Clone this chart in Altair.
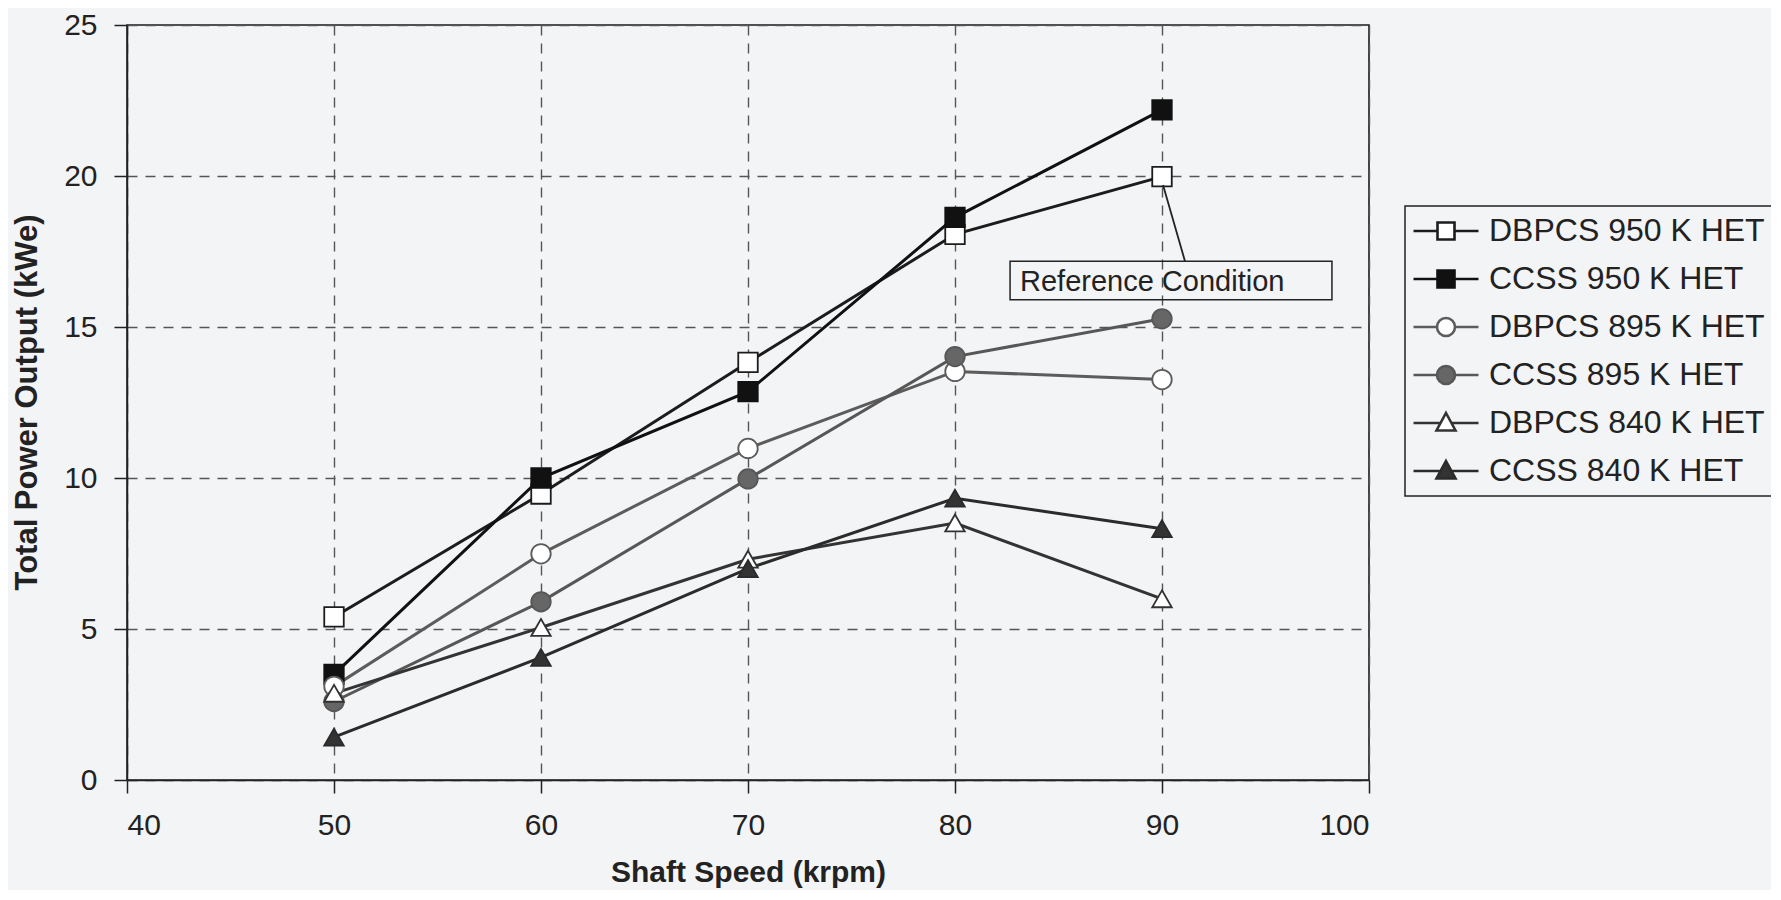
import altair as alt
import pandas as pd

# ---------------- data ----------------
speeds = [50, 60, 70, 80, 90]
series_names = [
    "DBPCS 950 K HET",
    "CCSS 950 K HET",
    "DBPCS 895 K HET",
    "CCSS 895 K HET",
    "DBPCS 840 K HET",
    "CCSS 840 K HET",
]
dbpcs_950 = [5.40, 9.47, 13.83, 18.07, 19.98]
ccss_950 = [3.50, 10.00, 12.86, 18.63, 22.19]
dbpcs_895 = [3.10, 7.49, 10.98, 13.53, 13.26]
ccss_895 = [2.60, 5.90, 9.97, 14.02, 15.27]
dbpcs_840 = [2.87, 5.05, 7.31, 8.51, 6.00]
ccss_840 = [1.42, 4.06, 7.00, 9.33, 8.32]

x_ticks = [40, 50, 60, 70, 80, 90, 100]
y_ticks = [0, 5, 10, 15, 20, 25]

annotation_text = ["Reference Condition"]
annotation_anchor = [90.05, 19.70]              # start of leader (data units)
annotation_leader_end = [91.11, 17.18]          # end of leader at box top
annotation_box = [82.66, 98.21, 17.18, 15.90]   # x, x2, y, y2 in data units
annotation_text_pos = [83.14, 16.49]

# ---------------- styles ----------------
line_colors = ["#1c1c1c", "#111111", "#5c5c5c", "#575757", "#333333", "#2b2b2b"]
marker_fill = ["#ffffff", "#111111", "#ffffff", "#666666", "#ffffff", "#333333"]
marker_stroke = ["#1c1c1c", "#111111", "#5c5c5c", "#575757", "#333333", "#2b2b2b"]
marker_shapes = ["square", "square", "circle", "circle", "triangle-up", "triangle-up"]

sq = "M-3.25,0H-0.85M0.85,0H3.25M-0.85,-0.85H0.85V0.85H-0.85Z"
ci = "M-3.25,0H-0.9M0.9,0H3.25M0.9,0A0.9,0.9,0,1,1,-0.9,0A0.9,0.9,0,1,1,0.9,0Z"
tr = "M-3.25,0H-0.54M0.54,0H3.25M0,-1L0.95,0.75H-0.95Z"
legend_shapes = [sq, sq, ci, ci, tr, tr]

BG = "#f3f4f6"
FONT = "Liberation Sans"

values = [dbpcs_950, ccss_950, dbpcs_895, ccss_895, dbpcs_840, ccss_840]
rows = []
for name, vals in zip(series_names, values):
    for s, v in zip(speeds, vals):
        rows.append({"series": name, "speed": s, "power": v})
df = pd.DataFrame(rows)

xscale = alt.Scale(domain=[40, 100], nice=False, zero=False)
yscale = alt.Scale(domain=[0, 25], nice=False)

x_axis = alt.Axis(
    values=x_ticks,
    title="Shaft Speed (krpm)",
    titleFontSize=30,
    titleFontWeight="bold",
    titleColor="#222222",
    titleBaseline="alphabetic",
    titleY=101,
    labelFontSize=30,
    labelColor="#222222",
    labelPadding=17,
    tickSize=13,
    tickColor="#222222",
    tickWidth=1.5,
    domainColor="#222222",
    domainWidth=1.5,
    grid=True,
    gridColor="#555555",
    gridDash=[10, 8],
    gridWidth=1.4,
)
y_axis = alt.Axis(
    values=y_ticks,
    title="Total Power Output (kWe)",
    titleFontSize=31,
    titleFontWeight="bold",
    titleColor="#222222",
    titleBaseline="middle",
    titleX=-100,
    titleY=377,
    labelFontSize=30,
    labelColor="#222222",
    labelPadding=17,
    tickSize=13,
    tickColor="#222222",
    tickWidth=1.5,
    domainColor="#222222",
    domainWidth=1.5,
    grid=True,
    gridColor="#555555",
    gridDash=[10, 8],
    gridWidth=1.4,
)
x_enc = alt.X("speed:Q", scale=xscale, axis=x_axis)
y_enc = alt.Y("power:Q", scale=yscale, axis=y_axis)

base = alt.Chart(df)

lines = base.mark_line(strokeWidth=3).encode(
    x=x_enc,
    y=y_enc,
    color=alt.Color("series:N", scale=alt.Scale(domain=series_names, range=line_colors), legend=None),
)

points = base.mark_point(filled=True, size=380, strokeWidth=1.8, opacity=1).encode(
    x=x_enc,
    y=y_enc,
    shape=alt.Shape("series:N", scale=alt.Scale(domain=series_names, range=marker_shapes), legend=None),
    fill=alt.Fill("series:N", scale=alt.Scale(domain=series_names, range=marker_fill), legend=None),
    stroke=alt.Stroke("series:N", scale=alt.Scale(domain=series_names, range=marker_stroke), legend=None),
)

leg = alt.Legend(
    title=None,
    orient="none",
    legendX=1278,
    legendY=181,
    labelFontSize=32,
    labelFont=FONT,
    labelColor="#222222",
    labelLimit=0,
    symbolSize=400,
    symbolOffset=16,
    labelOffset=27,
    symbolStrokeWidth=2.6,
    symbolOpacity=1,
    rowPadding=16,
    padding=9,
    strokeColor="#222222",
    fillColor=BG,
)

legend_layer = base.mark_point(filled=True, opacity=0).encode(
    x=x_enc,
    y=y_enc,
    shape=alt.Shape("series:N", scale=alt.Scale(domain=series_names, range=legend_shapes), legend=leg),
    fill=alt.Fill("series:N", scale=alt.Scale(domain=series_names, range=marker_fill), legend=leg),
    stroke=alt.Stroke("series:N", scale=alt.Scale(domain=series_names, range=marker_stroke), legend=leg),
)

box_df = pd.DataFrame({
    "speed": [annotation_box[0]], "speed2": [annotation_box[1]],
    "power": [annotation_box[2]], "power2": [annotation_box[3]],
})
box = alt.Chart(box_df).mark_rect(fillOpacity=0, stroke="#222222", strokeWidth=1.5).encode(
    x=x_enc, x2="speed2:Q", y=y_enc, y2="power2:Q",
)

text_df = pd.DataFrame({
    "label": annotation_text,
    "speed": [annotation_text_pos[0]],
    "power": [annotation_text_pos[1]],
})
label = alt.Chart(text_df).mark_text(
    align="left", baseline="middle", fontSize=29, font=FONT, color="#222222"
).encode(x=x_enc, y=y_enc, text="label:N")

conn_df = pd.DataFrame({
    "speed": [annotation_anchor[0]], "power": [annotation_anchor[1]],
    "speed2": [annotation_leader_end[0]], "power2": [annotation_leader_end[1]],
})
connector = alt.Chart(conn_df).mark_rule(color="#222222", strokeWidth=1.8).encode(
    x=x_enc, y=y_enc, x2="speed2:Q", y2="power2:Q",
)

chart = (
    alt.layer(lines, points, legend_layer, connector, box, label)
    .resolve_scale(shape="independent", fill="independent", stroke="independent", color="independent")
    .properties(
        width=1242,
        height=755,
        autosize=alt.AutoSizeParams(type="none"),
        padding={"left": 119, "top": 17, "right": 402, "bottom": 110},
        background=BG,
    )
    .configure(font=FONT)
    .configure_view(stroke="#1a1a1a", strokeWidth=1.6)
    .configure_legend(strokeWidth=1.5)
)

chart.save("out.html", embed_options={"renderer": "svg", "actions": False})
